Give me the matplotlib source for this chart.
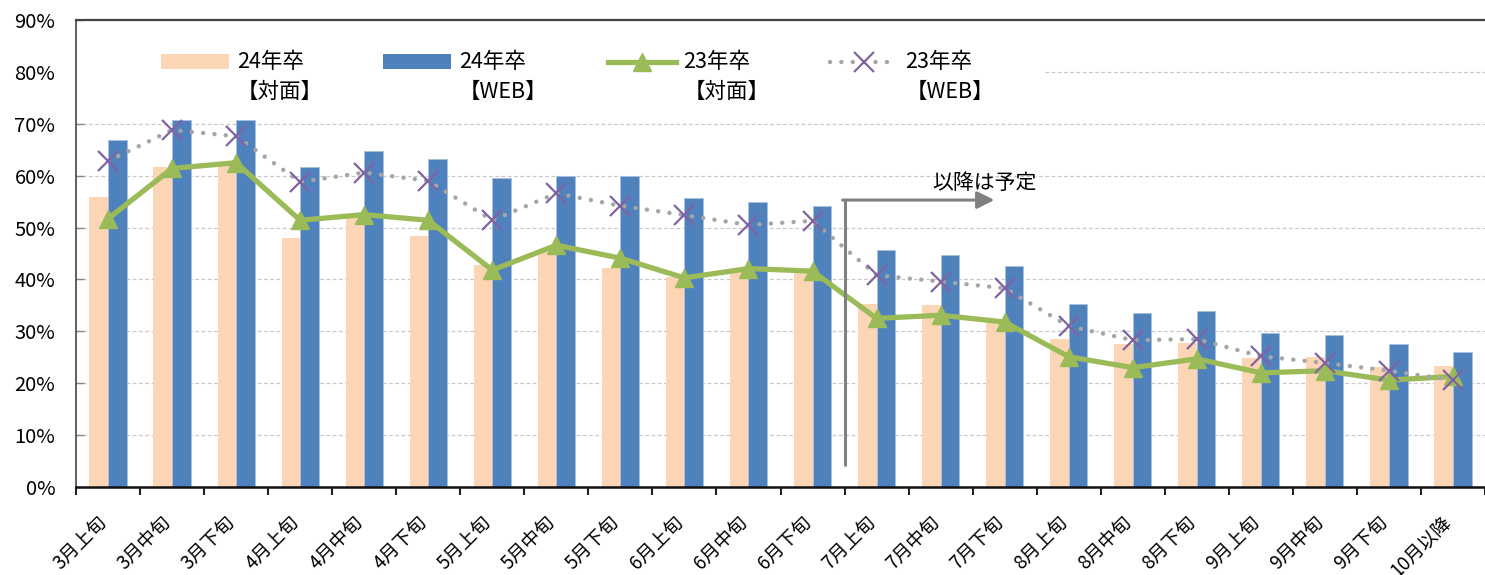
import numpy as np
import matplotlib.pyplot as plt
from matplotlib.lines import Line2D
from matplotlib.patches import Patch, Rectangle
from matplotlib.legend_handler import HandlerPatch, HandlerLine2D
from matplotlib import transforms

plt.rcParams['font.family'] = ['Noto Sans CJK JP', 'DejaVu Sans']

# data (%)
cats = ['3月上旬', '3月中旬', '3月下旬', '4月上旬', '4月中旬', '4月下旬',
        '5月上旬', '5月中旬', '5月下旬', '6月上旬', '6月中旬', '6月下旬',
        '7月上旬', '7月中旬', '7月下旬', '8月上旬', '8月中旬', '8月下旬',
        '9月上旬', '9月中旬', '9月下旬', '10月以降']
face24 = [55.9, 61.7, 62.0, 48.0, 51.8, 48.4, 42.8, 45.3, 42.3, 40.5, 41.5, 41.2,
          35.3, 35.1, 31.8, 28.5, 27.6, 27.8, 24.9, 25.0, 23.1, 23.3]
web24 = [66.8, 70.7, 70.7, 61.7, 64.8, 63.3, 59.5, 60.0, 60.0, 55.7, 55.0, 54.1,
         45.7, 44.8, 42.5, 35.3, 33.6, 33.9, 29.7, 29.2, 27.6, 26.1]
face23 = [51.7, 61.4, 62.5, 51.4, 52.5, 51.4, 41.8, 46.6, 44.1, 40.3, 42.1, 41.6,
          32.5, 33.1, 31.8, 25.1, 23.0, 24.7, 22.0, 22.4, 20.6, 21.3]
web23 = [62.8, 68.8, 67.6, 58.8, 60.6, 59.0, 51.4, 56.6, 54.2, 52.4, 50.5, 51.3,
         40.8, 39.6, 38.3, 31.0, 28.3, 28.5, 25.2, 23.9, 22.4, 20.6]
yticks = [0, 10, 20, 30, 40, 50, 60, 70, 80, 90]
labels = ['24年卒\n【対面】', '24年卒\n【WEB】', '23年卒\n【対面】', '23年卒\n【WEB】']

c_face = '#FCD5B4'
c_web = '#4F81BD'
c_green = '#9BBB59'
c_purple = '#8064A2'
c_dots = '#A6A6A6'
dotted = (0, (0.01, 2.55))

fig = plt.figure(figsize=(14.85, 5.75), dpi=100)
ax = fig.add_axes([76 / 1485, 1 - 487 / 575, 1 - 76 / 1485, 467 / 575])

x = np.arange(len(cats))
w = 0.29
ax.bar(x - w / 2, face24, w, color=c_face, zorder=2)
ax.bar(x + w / 2, web24, w, color=c_web, edgecolor='#A9C0DE', linewidth=0.6, zorder=2)
ax.plot(x, face23, color=c_green, lw=3.8, marker='^', ms=13, zorder=3)
ax.plot(x, web23, color=c_dots, lw=3.2, ls=dotted, dash_capstyle='round',
        marker='x', ms=14, mec=c_purple, mew=1.6, zorder=4)

ax.set_xlim(-0.5, len(cats) - 0.5)
ax.set_ylim(0, 90)
ax.set_yticks(yticks)
ax.set_yticklabels([str(v) + '%' for v in yticks])
ax.grid(True, axis='y', ls=(0, (3, 2)), lw=0.9, color='#C8C8C8', zorder=0)
ax.set_axisbelow(True)

# category boundaries as ticks, labels at the centres
ax.set_xticks(np.arange(len(cats) + 1) - 0.5)
ax.set_xticklabels([])
ax.set_xticks(x, minor=True)
ax.set_xticklabels(cats, minor=True, rotation=45, ha='right', rotation_mode='anchor',
                   fontsize=13.5)
ax.tick_params(axis='x', which='major', direction='out', length=6, width=1.5, color='#222')
ax.tick_params(axis='x', which='minor', length=0, pad=18)
ax.tick_params(axis='y', direction='in', length=6, width=1, color='#888', labelsize=14.5, pad=15)
# nudge the slanted labels left so they hang under their own bars
shift = transforms.ScaledTranslation(-8.5 / 72, 0, fig.dpi_scale_trans)
for lab in ax.get_xticklabels(minor=True):
    lab.set_transform(lab.get_transform() + shift)

ax.spines['right'].set_visible(False)
ax.spines['top'].set_color('#444')
ax.spines['top'].set_linewidth(1.6)
ax.spines['bottom'].set_color('#111')
ax.spines['bottom'].set_linewidth(1.8)
ax.spines['left'].set_color('#444')
ax.spines['left'].set_linestyle((0, (1, 1)))
ax.spines['left'].set_linewidth(1.2)

# arrow marking the planned part
ax.plot([11.5, 11.5], [4, 55.3], color='#808080', lw=2.2, zorder=5, solid_capstyle='butt')
ax.annotate('', xy=(13.84, 55.3), xytext=(11.47, 55.3),
            arrowprops=dict(arrowstyle='-|>', color='#808080', lw=2.2, mutation_scale=26,
                            shrinkA=0, shrinkB=0), zorder=5)
ax.text(12.87, 58.6, '以降は予定', fontsize=15, va='center', ha='left')

# white area behind the legend
ax.add_patch(Rectangle((0, 74), 0.686, 14, transform=transforms.blended_transform_factory(
    ax.transAxes, ax.transData), facecolor='white', edgecolor='none', zorder=1))


# keep the legend keys level with the first line of the label
class RaisedPatch(HandlerPatch):
    def create_artists(self, legend, orig_handle, xdescent, ydescent, width, height, fontsize, trans):
        trans = transforms.Affine2D().translate(0, fontsize * 0.76) + trans
        return super().create_artists(legend, orig_handle, xdescent, ydescent, width, height,
                                      fontsize, trans)


class RaisedLine(HandlerLine2D):
    def create_artists(self, legend, orig_handle, xdescent, ydescent, width, height, fontsize, trans):
        trans = transforms.Affine2D().translate(0, fontsize * 0.76) + trans
        return super().create_artists(legend, orig_handle, xdescent, ydescent, width, height,
                                      fontsize, trans)


handles = [Patch(facecolor=c_face),
           Patch(facecolor=c_web),
           Line2D([], [], color=c_green, lw=3.8, marker='^', ms=13),
           Line2D([], [], color=c_dots, lw=3.2, ls=dotted, dash_capstyle='round',
                  marker='x', ms=14, mec=c_purple, mew=1.6)]
leg = ax.legend(handles, labels, ncol=4, loc='upper left', bbox_to_anchor=(85 / 1409, 0.933),
                frameon=False, fontsize=15.5, handlelength=3.16, handletextpad=0.36,
                columnspacing=2.8, borderpad=0, borderaxespad=0, labelspacing=0,
                handler_map={Patch: RaisedPatch(), Line2D: RaisedLine(numpoints=1, marker_pad=0)})
for t in leg.get_texts():
    t.set_linespacing(1.45)

fig.savefig('out.png', dpi=100)
